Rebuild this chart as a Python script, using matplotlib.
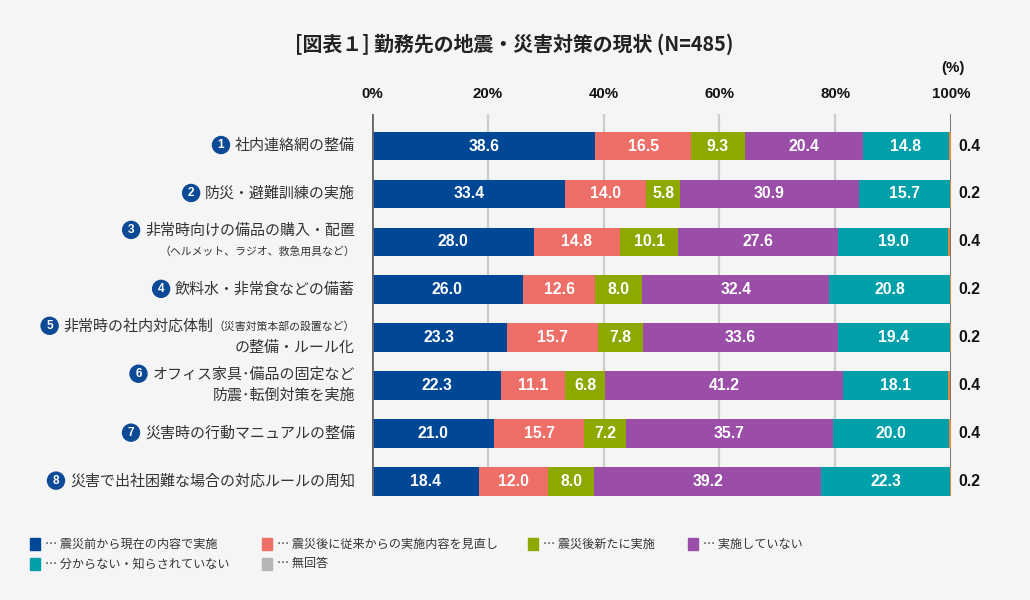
import matplotlib
matplotlib.use('Agg')
import matplotlib.pyplot as plt
from matplotlib.patches import Ellipse, Rectangle
import numpy as np

plt.rcParams['font.family'] = ['Noto Sans CJK JP', 'DejaVu Sans']

# ---------------- data ----------------
item_numbers = ['1', '2', '3', '4', '5', '6', '7', '8']
blue   = [38.6, 33.4, 28.0, 26.0, 23.3, 22.3, 21.0, 18.4]
salmon = [16.5, 14.0, 14.8, 12.6, 15.7, 11.1, 15.7, 12.0]
olive  = [9.3, 5.8, 10.1, 8.0, 7.8, 6.8, 7.2, 8.0]
purple = [20.4, 30.9, 27.6, 32.4, 33.6, 41.2, 35.7, 39.2]
teal   = [14.8, 15.7, 19.0, 20.8, 19.4, 18.1, 20.0, 22.3]
noans  = [0.4, 0.2, 0.4, 0.2, 0.2, 0.4, 0.4, 0.2]

legend_labels = ['震災前から現在の内容で実施', '震災後に従来からの実施内容を見直し', '震災後新たに実施',
                 '実施していない', '分からない・知らされていない', '無回答']

xtick_values = [0, 20, 40, 60, 80, 100]
xtick_labels = ['0%', '20%', '40%', '60%', '80%', '100%']

title = '[図表１] 勤務先の地震・災害対策の現状 (N=485)'

# category labels: lines of (text, kind) segments
cat_lines = [
    [[('社内連絡網の整備', 'big')]],
    [[('防災・避難訓練の実施', 'big')]],
    [[('非常時向けの備品の購入・配置', 'big')], [('（ヘルメット、ラジオ、救急用具など）', 'small')]],
    [[('飲料水・非常食などの備蓄', 'big')]],
    [[('非常時の社内対応体制', 'big'), ('（災害対策本部の設置など）', 'small')], [('の整備・ルール化', 'big')]],
    [[('オフィス家具･備品の固定など', 'big')], [('防震･転倒対策を実施', 'big')]],
    [[('災害時の行動マニュアルの整備', 'big')]],
    [[('災害で出社困難な場合の対応ルールの周知', 'big')]],
]

# ---------------- style ----------------
W, H = 1030, 600
BG = '#f5f5f5'
bar_colors = ['#004896', '#ee6e68', '#8ea800', '#9b4ea8', '#00a0aa', '#e8873a']
legend_colors = ['#004896', '#ee6e68', '#8ea800', '#9b4ea8', '#00a0aa', '#b5b5b5']
num_font = ['Liberation Sans', 'DejaVu Sans']
text_col = '#333333'
line_offsets = {1: [0], 2: [-11, 10]}
sizes = {'big': 10.8, 'small': 7.8}

fig = plt.figure(figsize=(W / 100, H / 100), dpi=100, facecolor=BG)
ax = fig.add_axes([372 / W, 1 - 496 / H, (951 - 372) / W, (496 - 114) / H])
ax.set_facecolor(BG)

series = [blue, salmon, olive, purple, teal, noans]
n = len(blue)
y = np.arange(n)
left = np.zeros(n)
for k, (vals, col) in enumerate(zip(series, bar_colors)):
    vals = np.array(vals)
    ax.barh(y, vals, left=left, height=0.6, color=col, linewidth=0, zorder=3)
    if k < 5:
        for i in range(n):
            ax.text(left[i] + vals[i] / 2, i, f'{vals[i]:.1f}', ha='center', va='center',
                    color='white', fontsize=11.3, fontweight='bold', family=num_font, zorder=5)
    left += vals

for i in range(n):
    ax.text(101.2, i, f'{noans[i]:.1f}', ha='left', va='center', color='#111111',
            fontsize=11.3, fontweight='bold', family=num_font, clip_on=False)

for xv in [20, 40, 60, 80]:
    ax.axvline(xv, color='#cccccc', lw=1.6, zorder=1)
ax.axvline(0, color='#666666', lw=2, zorder=4)
ax.axvline(100, color='#666666', lw=2, zorder=2)

ax.set_xlim(0, 100)
ax.set_ylim(n - 1 + 0.3, -0.668)
for s in ax.spines.values():
    s.set_visible(False)
ax.xaxis.tick_top()
ax.set_xticks(xtick_values)
ax.set_xticklabels(xtick_labels, fontsize=10.8, fontweight='bold', family=num_font, color='#111111')
ax.tick_params(axis='x', length=0, pad=9)
ax.set_yticks([])

fig.text(953 / W, 1 - 68 / H, '(%)', ha='center', va='center', fontsize=10.8,
         fontweight='bold', family=num_font, color='#111111')
fig.text(514 / W, 1 - 44 / H, title, ha='center', va='center', fontsize=14.3,
         fontweight='bold', color='#222222')

# ---------------- category labels ----------------
fig.canvas.draw()
renderer = fig.canvas.get_renderer()
RIGHT = 355
for i, lines in enumerate(cat_lines):
    cy = ax.transData.transform((0, i))[1]
    offs = line_offsets[len(lines)]
    first_x0 = None
    for li, (segs, off) in enumerate(zip(lines, offs)):
        ly = cy - off
        cx = RIGHT
        for text, kind in reversed(segs):
            t = fig.text(cx / W, ly / H, text, ha='right', va='center',
                         fontsize=sizes[kind], color=text_col)
            bb = t.get_window_extent(renderer)
            cx = bb.x0
        if li == 0:
            first_x0 = cx
            circ_y = ly
    ccx = first_x0 - 14
    fig.add_artist(Ellipse((ccx / W, (circ_y + 1) / H), 17 / W, 17 / H,
                           transform=fig.transFigure, color='#0d4a96', zorder=5))
    fig.text(ccx / W, (circ_y + 1) / H, item_numbers[i], ha='center', va='center',
             fontsize=8.5, fontweight='bold', color='white', family=num_font, zorder=6)

# ---------------- legend ----------------
legend_pos = [(30, 544), (262, 544), (528, 544), (688, 544), (30, 564), (262, 564)]
for (lx, lyp), lab, col in zip(legend_pos, legend_labels, legend_colors):
    fig.add_artist(Rectangle((lx / W, 1 - (lyp + 6) / H), 10 / W, 12 / H,
                             transform=fig.transFigure, color=col))
    fig.text((lx + 15) / W, 1 - lyp / H, '… ' + lab, ha='left', va='center',
             fontsize=8.7, color=text_col)

fig.savefig('out.png', dpi=100, facecolor=BG)
